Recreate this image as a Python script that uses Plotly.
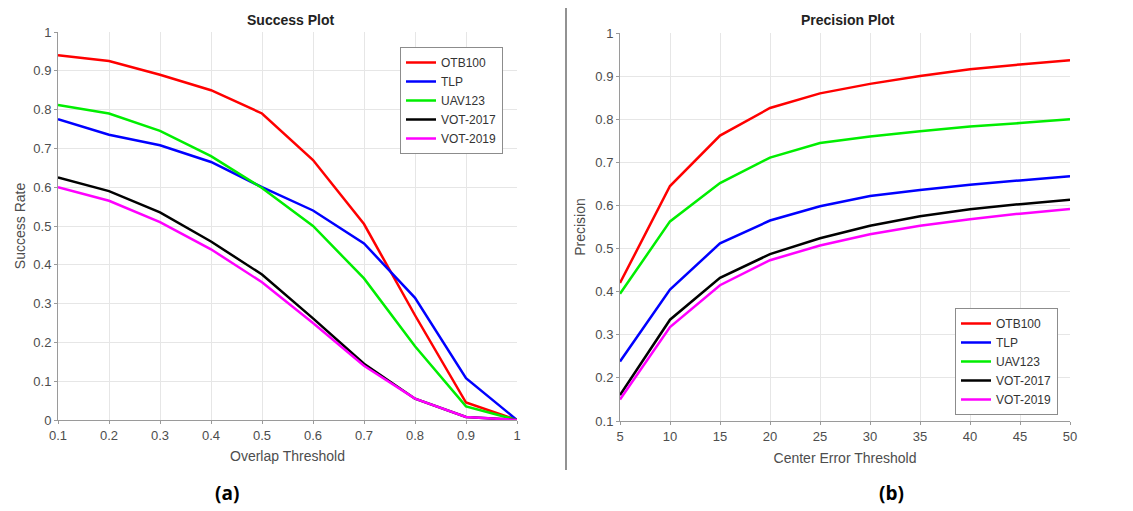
import plotly.graph_objects as go

names = ["OTB100", "TLP", "UAV123", "VOT-2017", "VOT-2019"]
colors = ["#ff0000", "#0000ff", "#00ee00", "#000000", "#ff00ff"]

overlap = [0.1, 0.2, 0.3, 0.4, 0.5, 0.6, 0.7, 0.8, 0.9, 1.0]
success_otb = [0.94, 0.925, 0.89, 0.85, 0.79, 0.67, 0.505, 0.27, 0.045, 0.0]
success_tlp = [0.775, 0.735, 0.708, 0.665, 0.60, 0.54, 0.455, 0.315, 0.108, 0.0]
success_uav = [0.812, 0.79, 0.745, 0.68, 0.598, 0.50, 0.365, 0.19, 0.035, 0.0]
success_vot17 = [0.625, 0.59, 0.535, 0.46, 0.375, 0.262, 0.145, 0.055, 0.008, 0.0]
success_vot19 = [0.60, 0.565, 0.51, 0.44, 0.355, 0.25, 0.14, 0.055, 0.008, 0.0]

center_err = [5, 10, 15, 20, 25, 30, 35, 40, 45, 50]
prec_otb = [0.42, 0.645, 0.762, 0.826, 0.86, 0.882, 0.90, 0.916, 0.927, 0.937]
prec_tlp = [0.238, 0.405, 0.512, 0.565, 0.598, 0.622, 0.636, 0.648, 0.658, 0.668]
prec_uav = [0.395, 0.563, 0.652, 0.711, 0.745, 0.76, 0.772, 0.783, 0.791, 0.80]
prec_vot17 = [0.16, 0.335, 0.432, 0.487, 0.524, 0.553, 0.575, 0.591, 0.603, 0.613]
prec_vot19 = [0.15, 0.318, 0.415, 0.473, 0.507, 0.533, 0.553, 0.568, 0.581, 0.592]

success = [success_otb, success_tlp, success_uav, success_vot17, success_vot19]
precision = [prec_otb, prec_tlp, prec_uav, prec_vot17, prec_vot19]

fig = go.Figure()
for n, c, s in zip(names, colors, success):
    fig.add_trace(go.Scatter(x=overlap, y=s, mode="lines", name=n,
                             line=dict(color=c, width=2.5), xaxis="x", yaxis="y",
                             legend="legend"))
for n, c, p in zip(names, colors, precision):
    fig.add_trace(go.Scatter(x=center_err, y=p, mode="lines", name=n,
                             line=dict(color=c, width=2.5), xaxis="x2", yaxis="y2",
                             legend="legend2"))

OFF = 8  # page body margin in the browser
W, H = 1133 - OFF, 511 - OFF
ML, MR, MT, MB = 58 - OFF, 1133 - 1070, 32 - OFF, 511 - 421
PW, PH = W - ML - MR, H - MT - MB

def px_x(v):
    return (v - OFF - ML) / PW

def px_y(v):
    return (H - MB - (v - OFF)) / PH

tickfont = dict(family="Liberation Sans, Arial", size=13, color="#4d4d4d")
titlefont = dict(family="Liberation Sans, Arial", size=14, color="#4d4d4d")
axis_common = dict(showgrid=True, gridcolor="#e6e6e6", gridwidth=1, showline=True,
                   linecolor="#9a9a9a", linewidth=1, ticks="outside", ticklen=3,
                   tickcolor="#9a9a9a", tickfont=tickfont, zeroline=False,
                   mirror=False, automargin=False)
legend_common = dict(bgcolor="white", bordercolor="#8c8c8c", borderwidth=1,
                     font=dict(family="Liberation Sans, Arial", size=12, color="#333333"),
                     tracegroupgap=0, itemwidth=30)

fig.update_layout(
    width=W, height=H, margin=dict(l=ML, r=MR, t=MT, b=MB),
    paper_bgcolor="white", plot_bgcolor="white",
    xaxis=dict(domain=[0, px_x(517)], range=[0.1, 1.0], dtick=0.1, tick0=0.1,
               title=dict(text="Overlap Threshold", font=titlefont, standoff=9),
               anchor="y", **axis_common),
    yaxis=dict(domain=[max(0, px_y(420)), min(1, px_y(32))], range=[0, 1], dtick=0.1,
               title=dict(text="Success Rate", font=titlefont, standoff=4),
               anchor="x", **axis_common),
    xaxis2=dict(domain=[px_x(620), 1], range=[5, 50], dtick=5, tick0=5,
                title=dict(text="Center Error Threshold", font=titlefont, standoff=10),
                anchor="y2", **axis_common),
    yaxis2=dict(domain=[0, min(1, px_y(33))], range=[0.1, 1], dtick=0.1,
                title=dict(text="Precision", font=titlefont, standoff=6),
                anchor="x2", **axis_common),
    legend=dict(x=px_x(400), y=px_y(47), xanchor="left", yanchor="top", **legend_common),
    legend2=dict(x=px_x(955), y=px_y(308), xanchor="left", yanchor="top", **legend_common),
    showlegend=True,
)

def label(text, cx, cy, size, family, color):
    fig.add_annotation(text=text, x=px_x(cx), y=px_y(cy), xref="paper", yref="paper",
                       xanchor="center", yanchor="middle", showarrow=False,
                       font=dict(family=family, size=size, color=color))

label("<b>Success Plot</b>", 290, 20, 14, "Liberation Sans, Arial", "#222222")
label("<b>Precision Plot</b>", 848, 20, 14, "Liberation Sans, Arial", "#222222")
label("<b>(a)</b>", 227, 493, 19, "Open Sans, Noto Sans", "#000000")
label("<b>(b)</b>", 891, 493, 19, "Open Sans, Noto Sans", "#000000")

fig.add_shape(type="line", xref="paper", yref="paper", x0=px_x(566), x1=px_x(566),
              y0=px_y(470), y1=px_y(8), line=dict(color="#6e6e6e", width=1.5))

fig.write_html("out.html")
